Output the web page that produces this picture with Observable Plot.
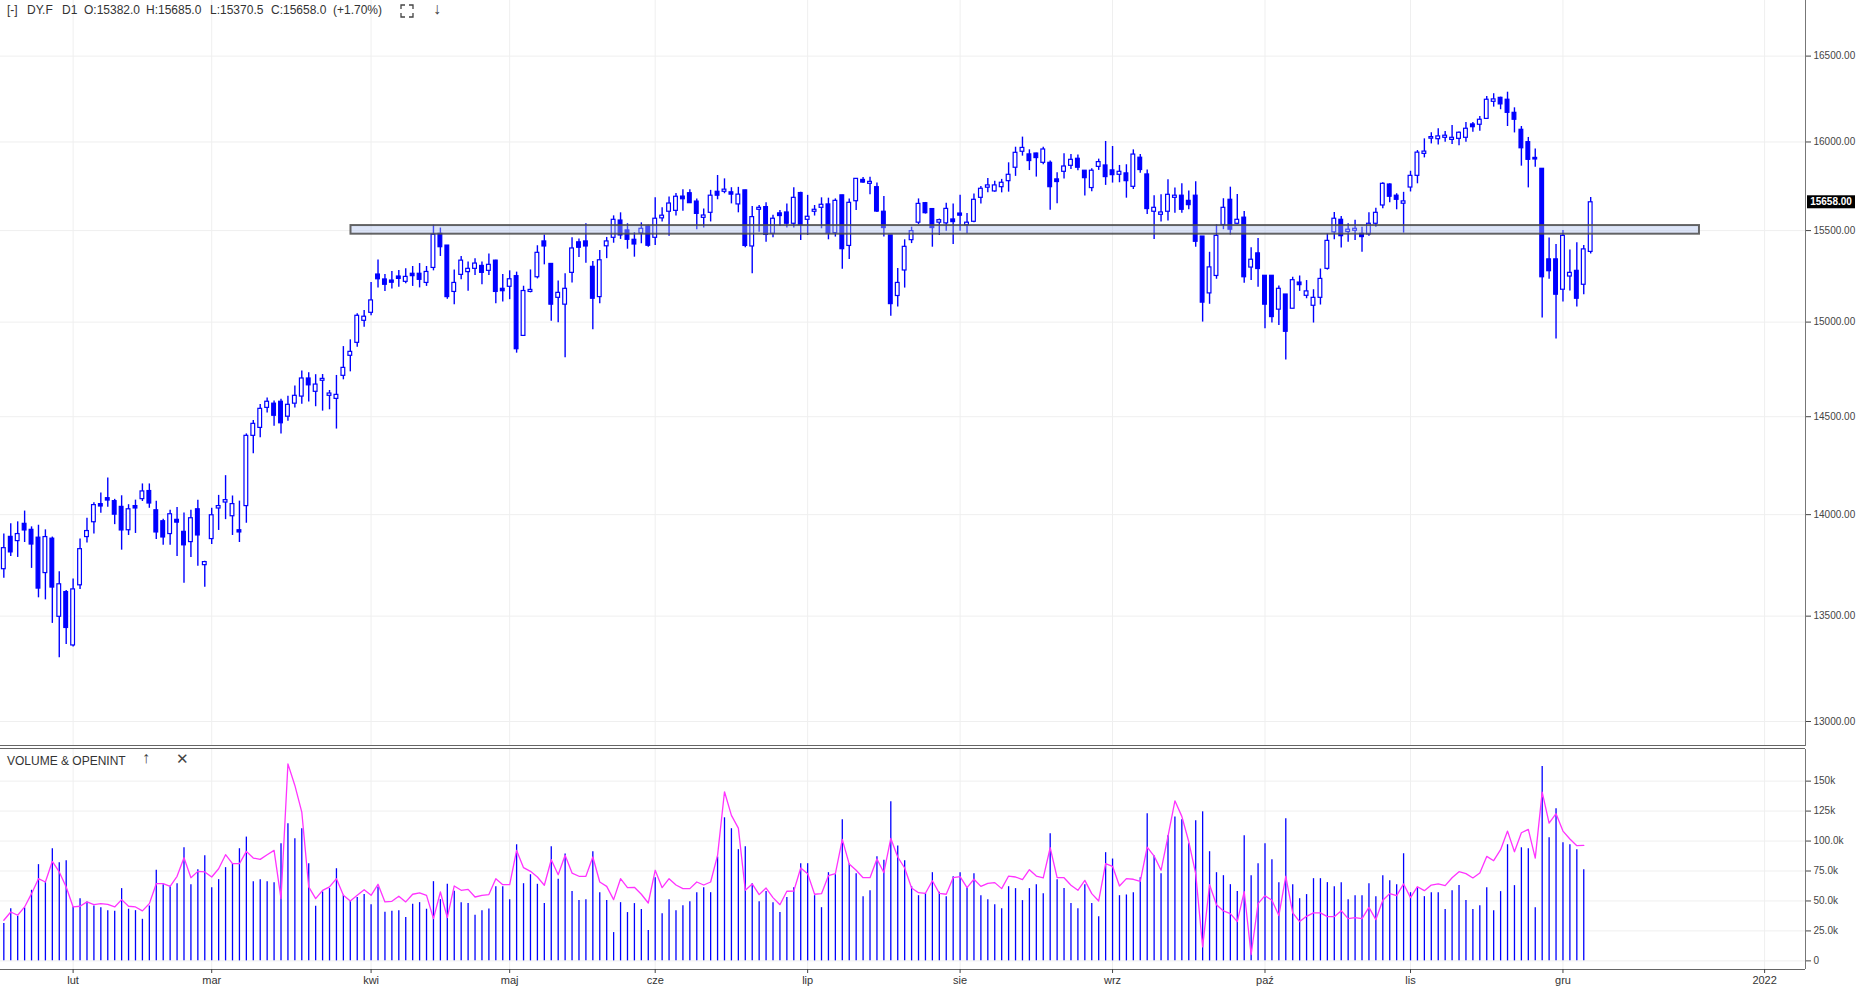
<!DOCTYPE html>
<html><head><meta charset="utf-8">
<script src="https://cdn.jsdelivr.net/npm/d3@7"></script>
<script src="https://cdn.jsdelivr.net/npm/@observablehq/plot@0.6"></script>
<style>
html,body{margin:0;padding:0;background:#fff;width:1859px;height:1000px;overflow:hidden;font-family:"Liberation Sans",Arial,sans-serif;}
#wrap{position:relative;width:1859px;height:1000px;}
#price{position:absolute;left:0;top:0;}
#vol{position:absolute;left:0;top:749px;}
.hd{position:absolute;top:3px;font-size:12px;color:#333;white-space:pre;line-height:14px;}
#sep{position:absolute;left:0;top:745px;width:1805px;height:2px;border-top:1px solid #666;border-bottom:1px solid #666;}
.vh{position:absolute;top:754px;font-size:12px;color:#333;line-height:14px;white-space:pre;}
</style></head>
<body><div id="wrap">
<div id="price"></div>
<div id="vol"></div>
<div id="sep"></div>
<div class="vh" style="left:7px">VOLUME &amp; OPENINT</div>
<div class="vh" style="left:142px;font-size:16px;top:751px;font-weight:bold;color:#444">↑</div>
<div class="vh" style="left:176px;font-size:15px;top:752px;color:#444">✕</div>
</div>
<script>
// ---- data (daily candles, index 0 = first visible session) ----
const open = [13729,13889,13868,13954,13924,13885,13710,13880,13497,13617,13359,13650,13888,13962,14053,14083,14068,14039,13922,14043,14078,14119,14022,13967,13903,13974,13914,13863,14027,13749,13878,14031,14061,13992,13922,14043,14401,14442,14546,14568,14578,14500,14568,14605,14700,14630,14688,14609,14593,14714,14820,14889,15007,15050,15258,15231,15225,15247,15218,15262,15262,15212,15294,15482,15417,15163,15256,15271,15289,15305,15278,15334,15180,15191,15249,14926,15163,15243,15440,15316,15131,15094,15267,15435,15440,15300,15135,15413,15460,15556,15501,15449,15484,15523,15460,15568,15605,15610,15690,15709,15662,15571,15599,15717,15717,15714,15646,15725,15412,15616,15631,15482,15596,15601,15538,15710,15560,15605,15627,15646,15486,15697,15415,15664,15784,15762,15743,15605,15473,15141,15280,15447,15544,15653,15620,15544,15540,15562,15595,15530,15549,15683,15740,15719,15743,15777,15853,15944,15929,15934,15881,15881,15787,15830,15864,15904,15836,15738,15858,15866,15838,15813,15821,15745,15910,15815,15605,15588,15605,15683,15695,15666,15695,15467,15155,15250,15531,15672,15538,15572,15296,15374,15251,15251,15067,15149,15072,15214,15142,15088,15131,15289,15490,15560,15492,15499,15482,15479,15538,15640,15758,15695,15650,15741,15807,15932,16019,16016,16024,16012,16018,16024,16101,16099,16133,16232,16255,16244,16168,16070,15999,15909,15847,15341,15341,15175,15247,15278,15202,15382];
const high = [13903,13954,13964,14018,13939,13947,13924,13888,13716,13625,13681,13878,13982,14060,14109,14185,14077,14095,14050,14073,14155,14155,14068,13977,14022,14036,14008,14022,14073,13768,14032,14097,14197,14094,14068,14411,14480,14563,14598,14582,14591,14607,14660,14740,14730,14720,14721,14637,14716,14869,14905,15045,15063,15214,15338,15258,15274,15280,15289,15302,15318,15302,15530,15514,15417,15283,15357,15327,15345,15327,15371,15336,15258,15278,15271,15194,15283,15416,15475,15316,15223,15262,15460,15453,15538,15329,15390,15462,15582,15599,15538,15488,15543,15530,15683,15627,15687,15707,15729,15729,15677,15621,15725,15809,15790,15740,15742,15725,15635,15640,15655,15585,15612,15649,15740,15714,15697,15640,15683,15681,15677,15697,15677,15790,15797,15799,15766,15690,15473,15291,15449,15519,15677,15657,15623,15564,15653,15649,15697,15595,15704,15747,15792,15777,15787,15881,15970,16028,15955,15936,15970,15891,15825,15932,15928,15926,15836,15847,15902,16003,15974,15866,15870,15955,15928,15840,15695,15700,15785,15738,15762,15721,15774,15467,15380,15532,15678,15743,15702,15607,15405,15456,15253,15251,15195,15149,15243,15250,15225,15175,15288,15482,15601,15579,15538,15557,15519,15599,15624,15768,15762,15706,15714,15833,15951,16018,16053,16076,16060,16095,16057,16112,16112,16147,16263,16279,16259,16288,16197,16089,16026,15960,15847,15459,15423,15501,15393,15432,15417,15685];
const low = [13685,13792,13787,13861,13733,13589,13579,13465,13300,13364,13352,13629,13858,13903,14007,14037,13950,13823,13896,13906,14066,14032,13876,13847,13847,13792,13660,13787,13744,13640,13851,13921,13975,13896,13861,13957,14309,14391,14519,14451,14411,14477,14546,14565,14577,14552,14529,14536,14436,14693,14735,14866,14973,15034,15185,15166,15179,15188,15207,15193,15185,15193,15278,15357,15123,15094,15229,15167,15252,15202,15252,15099,15108,15121,14834,14926,15158,15234,15311,15005,14996,14809,15212,15351,15320,14959,15099,15345,15430,15451,15397,15353,15427,15408,15418,15548,15469,15581,15608,15651,15504,15515,15548,15672,15706,15649,15599,15405,15262,15491,15436,15460,15523,15515,15515,15445,15473,15581,15510,15449,15464,15287,15340,15612,15765,15700,15601,15464,15032,15081,15184,15428,15534,15592,15408,15473,15497,15423,15497,15482,15544,15649,15712,15715,15711,15715,15804,15919,15837,15800,15870,15614,15650,15789,15843,15836,15693,15717,15838,15753,15766,15768,15681,15730,15822,15590,15451,15548,15553,15596,15596,15616,15408,15000,15096,15232,15505,15476,15532,15210,15225,15189,14964,14995,14982,14798,15072,15166,15126,14995,15092,15282,15449,15404,15436,15445,15380,15469,15518,15622,15655,15616,15486,15716,15762,15909,15989,15983,15999,15986,15979,15999,16056,16062,16131,16201,16186,16089,16052,15862,15739,15856,15022,15232,14910,15108,15168,15081,15148,15370.5];
const close = [13833,13812,13903,13921,13851,13634,13888,13639,13655,13443,13630,13828,13918,14048,14041,14071,14000,13921,14027,14031,14117,14056,13911,13886,14002,13960,13847,13982,13896,13764,13997,14043,14073,14053,13911,14401,14463,14541,14578,14505,14466,14562,14609,14700,14664,14668,14698,14621,14614,14756,14841,15034,15029,15117,15232,15202,15213,15234,15245,15249,15229,15272,15477,15408,15135,15212,15334,15289,15318,15267,15311,15163,15167,15232,14855,15168,15174,15377,15412,15094,15158,15180,15401,15405,15412,15126,15336,15440,15560,15473,15449,15423,15510,15416,15566,15583,15651,15689,15675,15653,15593,15584,15695,15695,15729,15701,15701,15415,15575,15627,15476,15566,15581,15538,15683,15532,15577,15616,15644,15484,15666,15397,15655,15790,15769,15773,15606,15514,15097,15212,15410,15497,15649,15597,15514,15558,15621,15547,15583,15544,15672,15734,15753,15753,15768,15813,15938,15966,15891,15908,15957,15743,15772,15860,15898,15853,15794,15836,15885,15800,15811,15830,15777,15928,15840,15620,15627,15601,15700,15695,15616,15642,15438,15105,15297,15471,15627,15505,15560,15243,15339,15288,15094,15027,15180,14948,15227,15200,15166,15131,15234,15443,15566,15469,15505,15510,15464,15538,15599,15762,15689,15672,15663,15807,15939,15945,16028,16032,16036,16024,16053,16076,16085,16128,16244,16246,16217,16168,16128,15964,15898,15900,15243,15276,15148,15471,15267,15126,15396,15658];
// volume and open interest (contracts), sessions 0..228
const volume = [31100,43600,37200,44200,58900,80300,65300,93600,81900,83600,45000,51900,49200,45800,44400,41900,41400,60300,43100,41900,34700,45800,75600,63600,62500,64400,94400,63600,76100,87800,61100,67800,77800,80800,93600,103300,66100,67800,66100,65300,97800,114400,101900,110300,81100,45600,57500,60300,76900,54700,50300,52800,55300,46900,61700,40600,41400,41900,36100,47200,48600,43100,66100,51100,63900,58100,48600,47800,38100,41900,43300,61900,61900,51100,96900,64400,71900,63900,47800,95300,68100,89200,57800,50300,51100,91100,56900,50300,23600,48600,40300,47800,42800,25300,69400,39400,51100,41900,46100,49400,56900,61100,56900,86700,119400,110300,92800,95300,64400,49400,57800,48600,40300,52800,61100,81100,81100,54400,44400,73600,71900,117800,80800,72800,53600,58600,86900,83900,132800,95800,83600,61900,54400,56100,73600,57200,53600,70300,73600,61100,72800,54400,51100,46900,43600,61900,60300,50300,60300,63600,56100,106100,67800,60300,47800,43600,63600,47800,36900,90300,85000,54400,55000,56900,69400,122800,87500,72800,104400,120000,117800,97800,116900,124400,91100,73600,71100,63600,57800,104400,71100,81100,97800,84400,65300,118600,63600,51900,55300,68600,68600,65300,61900,65300,51100,54400,54400,64400,53600,71100,66900,63600,89400,56900,61100,53600,56900,56900,42800,58600,62800,50300,42800,46100,61100,41900,57800,96900,62800,94400,93600,44400,162200,102800,126900,98600,96900,92800,76100];
const openInt = [33900,40800,38100,45000,56100,68600,65800,83100,74200,61700,45000,45600,49200,46900,47800,47200,45000,51100,45600,45000,41700,47800,64400,64400,62200,70600,86100,69400,74700,74200,70000,76900,88600,81100,81100,91400,85800,84700,88600,92200,51900,164400,146400,124200,61700,51900,58900,61700,68600,54700,50000,54700,59400,54700,63900,49200,49700,53900,49200,55600,56700,54700,35300,57500,36100,62500,58900,59700,53300,54700,55300,68600,63600,63600,92200,77800,74700,70000,63100,84400,71900,88100,73300,70600,70600,86700,65800,62200,51100,68600,61100,61400,55600,48300,75600,61100,68600,63300,60300,60300,65800,63300,65800,88100,141100,121400,110800,58900,64200,55300,60800,52800,46900,58100,58300,77500,72800,55600,56100,71100,72800,101400,80800,75600,69400,69400,85000,73600,102200,86700,77500,60800,56900,56400,66900,56400,55600,69400,70300,61100,68100,62200,64700,65300,60300,70800,70000,67800,76100,70800,69200,94400,69400,69400,63100,58900,67200,56100,50000,81100,78900,62500,68600,68100,66400,95000,87500,75600,103900,133600,120600,99400,72800,11700,63600,46900,41700,39400,32800,57800,5300,47800,54400,50600,37800,70600,40000,32800,37200,40000,40000,36900,36900,41900,35300,36100,35300,44700,34400,50600,56100,54400,64200,52800,61900,58600,63300,64200,62800,69400,74400,72800,69200,73300,87200,83600,92800,108300,91100,106900,109700,85800,140800,115000,122800,108300,101700,96100,96400];
// axis ticks
const priceTicks = [13000,13500,14000,14500,15000,15500,16000,16500];
const volumeTicks = [0,25000,50000,75000,100000,125000,150000];
const monthTickIndex = [10,30,53,73,94,116,138,160,182,203,225,254.1];
const monthLabels = ["lut","mar","kwi","maj","cze","lip","sie","wrz","paź","lis","gru","2022"];
// support zone (price band and session span)
const zoneLow = 15480, zoneHigh = 15528, zoneStart = 50.1, zoneEnd = 244.7;
const symbol = "DY.F", timeframe = "D1";

// ---- build ----
const N = close.length;
const candles = d3.range(N).map(i => ({i, o: open[i], h: high[i], l: low[i], c: close[i]}));
const volData = volume.map((v, i) => ({i, v}));
const oiData = openInt.map((v, i) => ({i, v}));
const xDomain = [-0.48, 260];
const BLUE = "#0000ff";
const FONT = "'Liberation Sans', Arial, sans-serif";

const pricePlot = Plot.plot({
  width: 1859, height: 746,
  marginLeft: 0, marginRight: 54, marginTop: 0, marginBottom: 0,
  style: {fontFamily: FONT, fontSize: "10px", color: "#444", background: "#fff"},
  x: {domain: xDomain, axis: null},
  y: {type: "log", domain: [12884, 16832], axis: null},
  marks: [
    Plot.ruleY(priceTicks, {stroke: "#efefef"}),
    Plot.ruleX(monthTickIndex, {stroke: "#efefef"}),
    Plot.ruleX(candles, {x: "i", y1: "l", y2: "h", stroke: BLUE, strokeWidth: 1.4}),
    Plot.rect(candles, {x1: d => d.i - 0.27, x2: d => d.i + 0.27, y1: "o", y2: "c",
      fill: d => d.c >= d.o ? "#ffffff" : BLUE, stroke: BLUE, strokeWidth: 1.2}),
    Plot.rect([0], {x1: () => zoneStart, x2: () => zoneEnd, y1: () => zoneLow, y2: () => zoneHigh,
      fill: "#a9bfee", fillOpacity: 0.4, stroke: "#4a4a4a", strokeOpacity: 0.85, strokeWidth: 2}),
    Plot.ruleX([xDomain[1]], {stroke: "#777"}),
    Plot.axisY(priceTicks, {anchor: "right", label: null, tickSize: 5, tickPadding: 3, tickFormat: d => d.toFixed(2), fontSize: 10})
  ]
});
document.getElementById("price").appendChild(pricePlot);

// last price tag on the right axis
const lastY = pricePlot.scale("y").apply(close[N - 1]);
const svgP = d3.select(pricePlot);
svgP.append("rect").attr("x", 1807).attr("y", lastY - 6.5).attr("width", 48).attr("height", 13).attr("fill", "#000");
svgP.append("text").attr("x", 1831).attr("y", lastY).attr("dy", "0.35em").attr("text-anchor", "middle")
  .attr("fill", "#fff").attr("font-weight", "bold").attr("font-size", 10).text(close[N - 1].toFixed(2));

const volFmt = v => v === 0 ? "0" : (v > 100000 ? (v / 1000) + "k" : (v / 1000).toFixed(1) + "k");
const volPlot = Plot.plot({
  width: 1859, height: 251,
  marginLeft: 0, marginRight: 54, marginTop: 0, marginBottom: 31,
  style: {fontFamily: FONT, fontSize: "10px", color: "#444", background: "#fff"},
  x: {domain: xDomain, axis: null},
  y: {domain: [-7200, 176400], axis: null},
  marks: [
    Plot.ruleY(volumeTicks, {stroke: "#efefef"}),
    Plot.ruleX(monthTickIndex, {stroke: "#efefef"}),
    Plot.ruleX(volData, {x: "i", y1: 0, y2: "v", stroke: BLUE, strokeWidth: 1.3}),
    Plot.line(oiData, {x: "i", y: "v", stroke: "#ff33ff", strokeWidth: 1.3}),
    Plot.ruleY([-7200], {stroke: "#666"}),
    Plot.ruleX([xDomain[1]], {stroke: "#777"}),
    Plot.axisY(volumeTicks, {anchor: "right", label: null, tickSize: 5, tickPadding: 3, tickFormat: volFmt, fontSize: 10}),
    Plot.axisX(monthTickIndex, {anchor: "bottom", label: null, tickSize: 4, tickPadding: 3, fontSize: 11, fill: "#333",
      tickFormat: d => monthLabels[monthTickIndex.indexOf(d)]})
  ]
});
document.getElementById("vol").appendChild(volPlot);

// header line
const pct = (close[N - 1] / close[N - 2] - 1) * 100;
const hdrItems = [
  [7, "[-]"], [27, symbol], [62, timeframe],
  [84, "O:" + open[N - 1].toFixed(1)], [146, "H:" + high[N - 1].toFixed(1)],
  [210, "L:" + low[N - 1].toFixed(1)], [271, "C:" + close[N - 1].toFixed(1)],
  [333, "(" + (pct >= 0 ? "+" : "") + pct.toFixed(2) + "%)"], [433, "↓"]
];
const wrap = document.getElementById("wrap");
for (const [x, t] of hdrItems) {
  const s = document.createElement("div");
  s.className = "hd"; s.style.left = x + "px"; s.textContent = t;
  if (t === "↓") { s.style.fontSize = "16px"; s.style.top = "2px"; s.style.fontWeight = "bold"; s.style.color = "#444"; }
  wrap.appendChild(s);
}
// expand icon
const ic = d3.select(wrap).append("svg").attr("width", 14).attr("height", 14)
  .style("position", "absolute").style("left", "400px").style("top", "4px");
ic.append("path").attr("d", "M1,5V1H5 M9,1H13V5 M13,9V13H9 M5,13H1V9").attr("fill", "none").attr("stroke", "#444").attr("stroke-width", 1.3);
</script>
</body></html>
